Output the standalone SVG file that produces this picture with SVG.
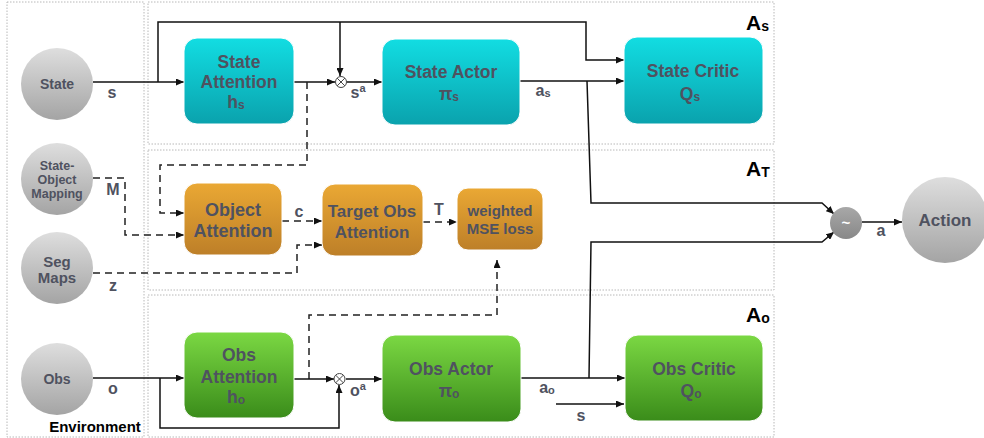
<svg xmlns="http://www.w3.org/2000/svg" width="984" height="438" viewBox="0 0 984 438">
<defs>
<linearGradient id="gCyan" x1="0" y1="0" x2="0" y2="1"><stop offset="0" stop-color="#12dde2"/><stop offset="1" stop-color="#0aa2ad"/></linearGradient>
<linearGradient id="gOrange" x1="0" y1="0" x2="0" y2="1"><stop offset="0" stop-color="#eaa834"/><stop offset="1" stop-color="#bd7f28"/></linearGradient>
<linearGradient id="gGreen" x1="0" y1="0" x2="0" y2="1"><stop offset="0" stop-color="#7bd843"/><stop offset="1" stop-color="#3a8c1a"/></linearGradient>
<linearGradient id="gGray" x1="0" y1="0" x2="0" y2="1"><stop offset="0" stop-color="#dedede"/><stop offset="1" stop-color="#a4a4a4"/></linearGradient>
<linearGradient id="gDark" x1="0" y1="0" x2="0" y2="1"><stop offset="0" stop-color="#a8a8a8"/><stop offset="1" stop-color="#888"/></linearGradient>
<marker id="arr" markerWidth="8" markerHeight="7" refX="8" refY="3.5" orient="auto" markerUnits="userSpaceOnUse"><path d="M0,0 L8,3.5 L0,7 z" fill="#111"/></marker>
</defs>
<style>
.frame{fill:none;stroke:#b8b8b8;stroke-width:1;stroke-dasharray:1.5,1.5}
.box{stroke:#ffffff;stroke-width:1}
.t{font-family:"Liberation Sans",Arial,sans-serif;font-weight:bold;fill:#4f5260;text-anchor:middle}
.bt{font-size:17.5px}
.ct{font-size:14px}
.lbl{font-family:"Liberation Sans",Arial,sans-serif;font-weight:bold;fill:#4f5260;font-size:16px;text-anchor:middle}
.big{font-family:"Liberation Sans",Arial,sans-serif;font-weight:bold;fill:#000;font-size:21px}
.ln{fill:none;stroke:#111;stroke-width:1.5}
.dl{fill:none;stroke:#222;stroke-width:1.5;stroke-dasharray:7,5}
</style>

<g id="frames">
<rect class="frame" x="7" y="2" width="137" height="435"/>
<rect class="frame" x="148" y="2" width="626" height="142"/>
<rect class="frame" x="148" y="150" width="626" height="140"/>
<rect class="frame" x="148" y="295" width="626" height="142"/>
<text class="big" x="746" y="30">A<tspan font-size="14" dy="1">s</tspan></text>
<text class="big" x="746" y="176">A<tspan font-size="14" dy="1">T</tspan></text>
<text class="big" x="746" y="322">A<tspan font-size="14" dy="1">o</tspan></text>
<text x="95" y="432" font-family="Liberation Sans, Arial, sans-serif" font-weight="bold" font-size="15" fill="#000" text-anchor="middle">Environment</text>
</g>

<g id="connectors">
<path class="ln" d="M93,82 L184,82" marker-end="url(#arr)"/>
<path class="ln" d="M158,82 L158,22 L586,22 L586,60 L624,60" marker-end="url(#arr)"/>
<path class="ln" d="M340,22 L340,76" marker-end="url(#arr)"/>
<path class="ln" d="M294,82 L335,82" marker-end="url(#arr)"/>
<path class="ln" d="M347,82 L382,82" marker-end="url(#arr)"/>
<path class="ln" d="M520,81 L624,81" marker-end="url(#arr)"/>
<path class="ln" d="M587,81 L591,203 L822,203 L834,214" marker-end="url(#arr)"/>
<path class="dl" d="M307,82 L307,165 L160,165 L160,213 L184,213" marker-end="url(#arr)"/>
<path class="dl" d="M93,178 L125,178 L125,235 L184,235" marker-end="url(#arr)"/>
<path class="dl" d="M93,273 L297,273 L297,245 L322,245" marker-end="url(#arr)"/>
<path class="dl" d="M282,221 L322,221" marker-end="url(#arr)"/>
<path class="dl" d="M423,222 L457,222" marker-end="url(#arr)"/>
<path class="dl" d="M309,379 L309,315 L497,315 L497,260" marker-end="url(#arr)"/>
<path class="ln" d="M93,378 L184,378" marker-end="url(#arr)"/>
<path class="ln" d="M160,378 L160,428 L339,428 L339,385" marker-end="url(#arr)"/>
<path class="ln" d="M294,379 L334,379" marker-end="url(#arr)"/>
<path class="ln" d="M346,379 L382,379" marker-end="url(#arr)"/>
<path class="ln" d="M521,378 L625,378" marker-end="url(#arr)"/>
<path class="ln" d="M589,378 L591,242 L822,242 L834,232" marker-end="url(#arr)"/>
<path class="ln" d="M556,404 L624,404" marker-end="url(#arr)"/>
<path class="ln" d="M862,222 L902,222" marker-end="url(#arr)"/>
<text class="lbl" x="112" y="98">s</text>
<text class="lbl" x="113" y="195">M</text>
<text class="lbl" x="113" y="291">z</text>
<text class="lbl" x="113" y="394">o</text>
<text class="lbl" x="299" y="217">c</text>
<text class="lbl" x="439" y="215">T</text>
<text class="lbl" x="358" y="98">s<tspan font-size="11" dy="-6">a</tspan></text>
<text class="lbl" x="358" y="396">o<tspan font-size="11" dy="-6">a</tspan></text>
<text class="lbl" x="543" y="96">a<tspan font-size="11" dy="1">s</tspan></text>
<text class="lbl" x="547" y="393">a<tspan font-size="11" dy="1">o</tspan></text>
<text class="lbl" x="581" y="421">s</text>
<text class="lbl" x="881" y="236">a</text>
<g fill="#fff" stroke="#444" stroke-width="1">
<circle cx="341" cy="82" r="5.5"/>
<path d="M337.1,78.1 L344.9,85.9 M344.9,78.1 L337.1,85.9"/>
<circle cx="339.5" cy="379" r="5.5"/>
<path d="M335.6,375.1 L343.4,382.9 M343.4,375.1 L335.6,382.9"/>
</g>
</g>

<g id="state"><circle cx="57" cy="84" r="36" fill="url(#gGray)"/><text class="t ct" x="57" y="89">State</text></g>
<g id="mapping"><circle cx="57" cy="179" r="36" fill="url(#gGray)"/><text class="t" font-size="12.5" x="57" y="170">State-</text><text class="t" font-size="12.5" x="57" y="184">Object</text><text class="t" font-size="12.5" x="57" y="198">Mapping</text></g>
<g id="segmaps"><circle cx="57" cy="268" r="36" fill="url(#gGray)"/><text class="t" font-size="15" x="57" y="267">Seg</text><text class="t" font-size="15" x="57" y="283">Maps</text></g>
<g id="obs"><circle cx="57" cy="379" r="36" fill="url(#gGray)"/><text class="t ct" x="57" y="384">Obs</text></g>
<g id="action"><circle cx="945" cy="220" r="43" fill="url(#gGray)"/><text class="t" font-size="17" x="945" y="226">Action</text></g>
<g id="sample"><circle cx="846" cy="223" r="16" fill="url(#gDark)"/><text x="846" y="228" font-family="Liberation Sans, Arial, sans-serif" font-weight="bold" font-size="15" fill="#fff" text-anchor="middle">~</text></g>

<g id="state-attention"><rect class="box" x="184" y="38" width="110" height="86" rx="13" fill="url(#gCyan)"/><text class="t bt" x="239" y="68">State</text><text class="t bt" x="239" y="88">Attention</text><text class="t bt" x="236" y="108">h<tspan font-size="12" dy="1">s</tspan></text></g>
<g id="state-actor"><rect class="box" x="382" y="39" width="138" height="86" rx="13" fill="url(#gCyan)"/><text class="t bt" x="451" y="78">State Actor</text><text class="t bt" x="449" y="100">π<tspan font-size="12" dy="1">s</tspan></text></g>
<g id="state-critic"><rect class="box" x="624" y="37" width="139" height="87" rx="13" fill="url(#gCyan)"/><text class="t bt" x="693" y="77">State Critic</text><text class="t bt" x="690" y="100">Q<tspan font-size="12" dy="1">s</tspan></text></g>

<g id="object-attention"><rect class="box" x="184" y="183" width="98" height="72" rx="13" fill="url(#gOrange)"/><text class="t" font-size="18" x="233" y="216">Object</text><text class="t" font-size="18" x="233" y="237">Attention</text></g>
<g id="target-obs-attention"><rect class="box" x="322" y="184" width="101" height="72" rx="13" fill="url(#gOrange)"/><text class="t" font-size="17" x="372" y="217">Target Obs</text><text class="t" font-size="17" x="372" y="238">Attention</text></g>
<g id="weighted-mse"><rect class="box" x="457" y="188" width="86" height="62" rx="11" fill="url(#gOrange)"/><text class="t" font-size="15" x="500" y="216">weighted</text><text class="t" font-size="15" x="500" y="234">MSE loss</text></g>

<g id="obs-attention"><rect class="box" x="184" y="332" width="110" height="86" rx="13" fill="url(#gGreen)"/><text class="t bt" x="239" y="361">Obs</text><text class="t bt" x="239" y="383">Attention</text><text class="t bt" x="236" y="403">h<tspan font-size="12" dy="1">o</tspan></text></g>
<g id="obs-actor"><rect class="box" x="382" y="335" width="139" height="87" rx="13" fill="url(#gGreen)"/><text class="t bt" x="451" y="375">Obs Actor</text><text class="t bt" x="449" y="397">π<tspan font-size="12" dy="1">o</tspan></text></g>
<g id="obs-critic"><rect class="box" x="625" y="335" width="138" height="86" rx="13" fill="url(#gGreen)"/><text class="t bt" x="694" y="375">Obs Critic</text><text class="t bt" x="691" y="397">Q<tspan font-size="12" dy="1">o</tspan></text></g>
</svg>
